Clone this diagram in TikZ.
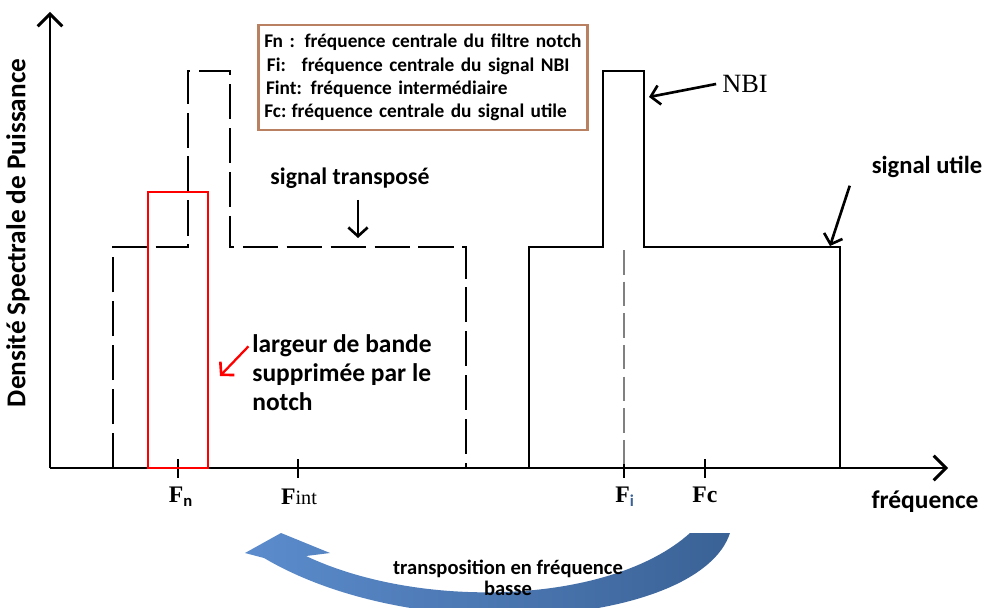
\documentclass[tikz,border=0pt]{standalone}
\usepackage{fontspec}
\setmainfont{Liberation Serif}
\setsansfont{Carlito}
\usetikzlibrary{positioning, calc, arrows.meta}

\definecolor{legbrown}{RGB}{185,128,98}
\definecolor{bluelight}{RGB}{92,140,205}
\definecolor{bluedark}{RGB}{58,98,150}

\tikzset{
  lbl/.style={font=\sffamily\bfseries\fontsize{14pt}{16pt}\selectfont},
  axis/.style={line width=1.7pt, -{Straight Barb[length=7pt,width=14pt,line width=1.7pt]}},
  sig/.style={line width=1.6pt},
  sigdash/.style={line width=1.6pt, dash pattern=on 20pt off 5pt},
  arr/.style={line width=1.5pt, -{Straight Barb[length=5pt,width=11pt,line width=1.5pt]}},
  ticklbl/.style={font=\fontsize{13.5pt}{15pt}\selectfont}
}

\begin{document}
\begin{tikzpicture}[x=0.02cm, y=-0.02cm]
  \useasboundingbox (0,0) rectangle (984,608);
  % axes
  \draw[axis] (50,468) -- (948,468);
  \draw[axis] (50,468) -- (50,12);
  \foreach \x in {178,298,624,705}
    \draw[line width=1.6pt] (\x,459) -- (\x,478);
  \node[lbl, rotate=90, font=\sffamily\bfseries\fontsize{15.5pt}{17pt}\selectfont] (dsp) at (18,233) {Densité Spectrale de Puissance};
  \node[lbl, font=\sffamily\bfseries\fontsize{14.5pt}{16pt}\selectfont] (freq) at (925,502) {fréquence};
  % tick labels
  \node[ticklbl] (fn) at (181,497) {\textbf{F}\textsubscript{\sffamily\bfseries n}};
  \node[ticklbl] (fint) at (299,497) {\textbf{F}{\fontsize{11.5pt}{13pt}\selectfont int}};
  \node[ticklbl] (fi) at (625,497) {\textbf{F}\textsubscript{\sffamily\bfseries\color{bluedark}i}};
  \node[ticklbl] (fc) at (705,495) {\textbf{Fc}};
  % transposed signal
  \draw[sigdash] (113,468) -- (113,247) -- (188,247) -- (188,71) -- (230,71)
    -- (230,247) -- (466,247) -- (466,468);
  % useful signal with NBI
  \draw[sig] (529,468) -- (529,247) -- (603,247) -- (603,71) -- (644,71)
    -- (644,247) -- (840,247) -- (840,468);
  \draw[gray, line width=0.6pt, dash pattern=on 14pt off 4pt] (624,250) -- (624,466);
  % notch
  \draw[red, line width=1.7pt] (148,192) rectangle (208,468);
  % legend
  \node[draw=legbrown, line width=1.6pt, text width=6.35cm, minimum height=2.1cm,
    inner xsep=0.12cm, align=left, font=\sffamily\bfseries\fontsize{11pt}{13.2pt}\selectfont]
    (legend) at (423,77.5)
    {Fn : fréquence centrale du filtre notch\\
     \hspace{1.5pt}Fi:\hspace{9pt}fréquence centrale du signal NBI\\
     \hspace{1pt}Fint:\hspace{5pt}fréquence intermédiaire\\
     Fc:\hspace{3pt}fréquence centrale du signal utile};
  % labels and arrows
  \node[lbl, font=\sffamily\bfseries\fontsize{13.5pt}{16pt}\selectfont] (transp) at (350,178) {signal transposé};
  \coordinate (transtip) at (358,238);
  \draw[arr] ([yshift=-3pt]transp.south -| transtip) -- (transtip);
  \node[font=\fontsize{15pt}{16pt}\selectfont] (nbi) at (745,84) {NBI};
  \coordinate (nbitip) at (649,97);
  \draw[arr] (nbi.west) -- (nbitip);
  \node[lbl] (utile) at (927,167) {signal utile};
  \coordinate (utiletip) at (830,246);
  \draw[arr] ([xshift=-9pt,yshift=-1pt]utile.south west) -- (utiletip);
  \node[lbl, font=\sffamily\bfseries\fontsize{14.5pt}{16.7pt}\selectfont, align=left,
    anchor=north west, inner sep=0pt] (notch) at (252,334)
    {largeur de bande\\supprimée par le\\notch};
  \coordinate (notchtip) at (220,376);
  \draw[arr, red, line width=1.3pt] ([xshift=-2pt,yshift=-7pt]notch.north west) -- (notchtip);
  % transposition arrow
  \begin{scope}
    \clip (0,0) rectangle (984,608);
    \shade[left color=bluelight, right color=bluedark]
      (281,533) -- (330,553) -- (306,556)
      .. controls (420,610) and (610,605) .. (690,533) -- (730,533)
      .. controls (700,625) and (420,650) .. (264,558) -- (245,553) -- cycle;
  \end{scope}
  \node[lbl, font=\sffamily\bfseries\fontsize{11.7pt}{12pt}\selectfont, align=center]
    (transpo) at (508,578) {transposition en fréquence\\basse};
\end{tikzpicture}
\end{document}
